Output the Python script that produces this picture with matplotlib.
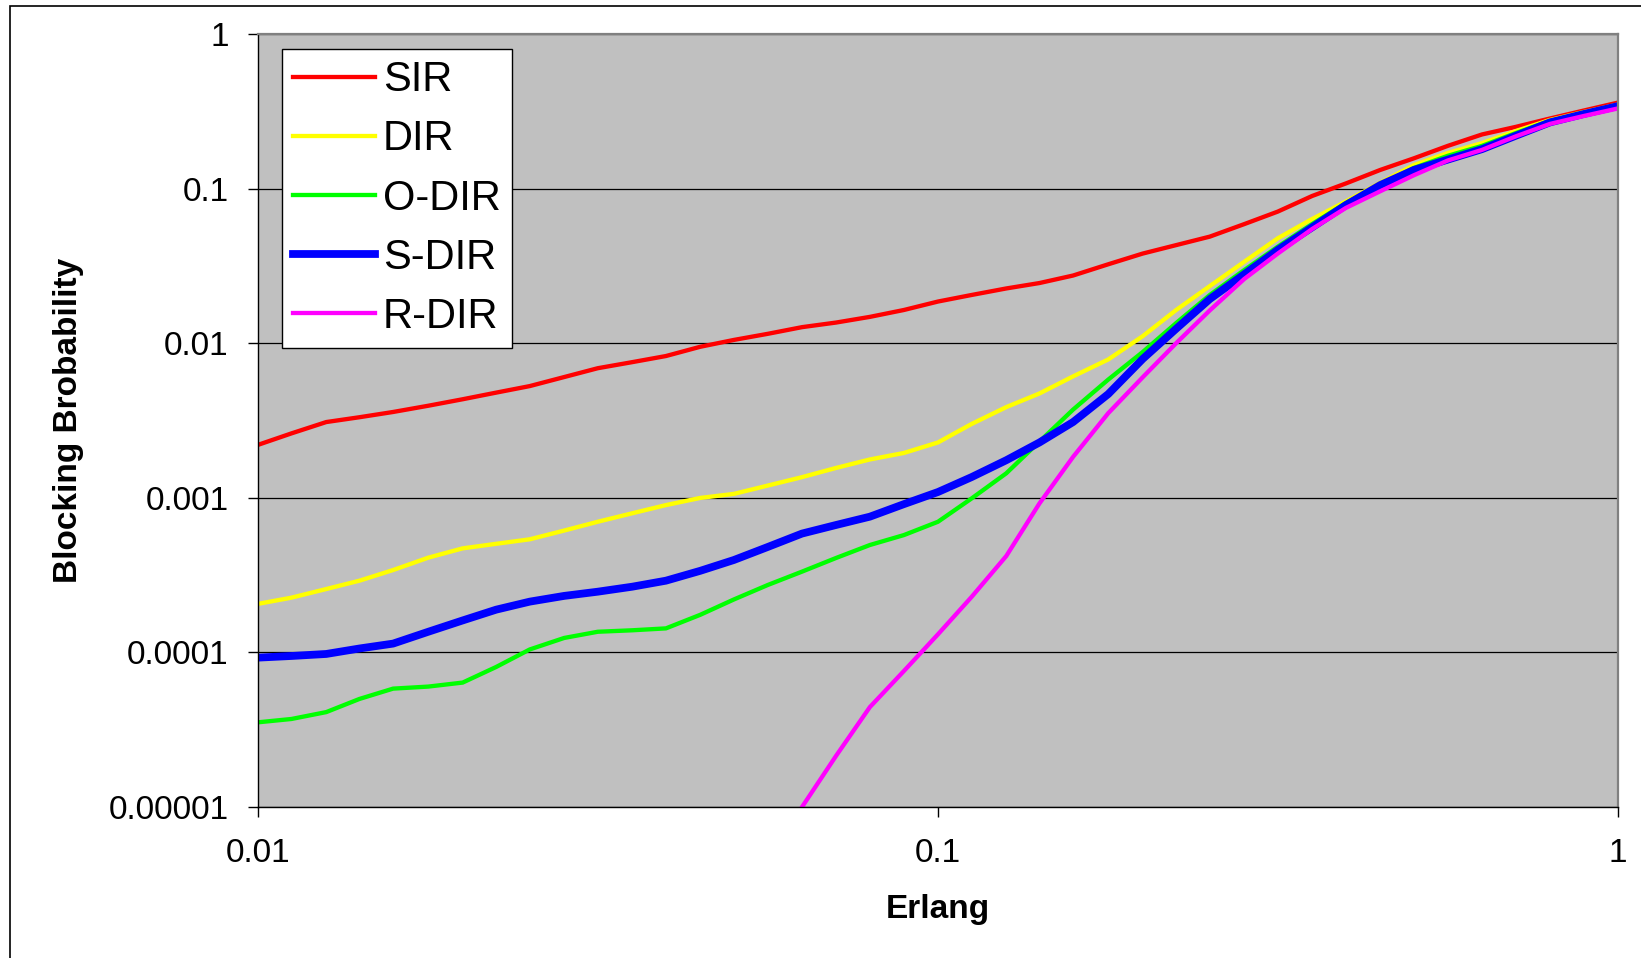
import numpy as np
import matplotlib
matplotlib.use("Agg")
import matplotlib.pyplot as plt
from matplotlib.patches import Rectangle

plt.rcParams["font.family"] = ["Liberation Sans", "DejaVu Sans"]

# Erlang load (x) and blocking probability of each scheme
erlang = [0.01, 0.0112, 0.0126, 0.0141, 0.0158, 0.0178, 0.02, 0.0224, 0.0251, 0.0282,
          0.0316, 0.0355, 0.0398, 0.0447, 0.0501, 0.0562, 0.0631, 0.0708, 0.0794, 0.0891,
          0.1, 0.112, 0.126, 0.141, 0.158, 0.178, 0.2, 0.224, 0.251, 0.282,
          0.316, 0.355, 0.398, 0.447, 0.501, 0.562, 0.631, 0.708, 0.794, 0.891, 1.0]

sir = [2.2e-3, 2.61e-3, 3.09e-3, 3.32e-3, 3.59e-3, 3.94e-3, 4.34e-3, 4.79e-3, 5.28e-3, 6.04e-3,
       6.89e-3, 7.54e-3, 8.26e-3, 9.48e-3, 1.05e-2, 1.15e-2, 1.27e-2, 1.36e-2, 1.48e-2, 1.64e-2,
       1.86e-2, 2.05e-2, 2.26e-2, 2.45e-2, 2.74e-2, 3.24e-2, 3.8e-2, 4.31e-2, 4.89e-2, 5.89e-2,
       7.1e-2, 8.96e-2, 0.108, 0.132, 0.157, 0.189, 0.224, 0.251, 0.284, 0.32, 0.36]

dir_ = [2.06e-4, 2.26e-4, 2.57e-4, 2.91e-4, 3.41e-4, 4.1e-4, 4.71e-4, 5.04e-4, 5.39e-4, 6.14e-4,
        7.0e-4, 7.94e-4, 8.97e-4, 9.98e-4, 1.06e-3, 1.2e-3, 1.36e-3, 1.56e-3, 1.77e-3, 1.95e-3,
        2.28e-3, 3.0e-3, 3.86e-3, 4.73e-3, 6.1e-3, 7.85e-3, 1.11e-2, 1.64e-2, 2.34e-2, 3.36e-2,
        4.77e-2, 6.36e-2, 8.26e-2, 0.109, 0.142, 0.170, 0.197, 0.236, 0.278, 0.313, 0.35]

o_dir = [3.53e-5, 3.71e-5, 4.11e-5, 5.0e-5, 5.83e-5, 6.01e-5, 6.38e-5, 8.05e-5, 1.045e-4, 1.24e-4,
         1.36e-4, 1.39e-4, 1.43e-4, 1.75e-4, 2.2e-4, 2.73e-4, 3.33e-4, 4.08e-4, 4.95e-4, 5.74e-4,
         7.0e-4, 9.89e-4, 1.44e-3, 2.31e-3, 3.72e-3, 5.82e-3, 8.77e-3, 1.35e-2, 2.05e-2, 2.97e-2,
         4.21e-2, 5.9e-2, 8.07e-2, 0.1054, 0.136, 0.163, 0.189, 0.229, 0.274, 0.308, 0.347]

s_dir = [9.25e-5, 9.48e-5, 9.77e-5, 1.06e-4, 1.14e-4, 1.36e-4, 1.61e-4, 1.89e-4, 2.13e-4, 2.32e-4,
         2.47e-4, 2.66e-4, 2.91e-4, 3.37e-4, 3.96e-4, 4.81e-4, 5.87e-4, 6.67e-4, 7.55e-4, 9.1e-4,
         1.09e-3, 1.36e-3, 1.75e-3, 2.28e-3, 3.09e-3, 4.69e-3, 7.91e-3, 1.24e-2, 1.93e-2, 2.79e-2,
         4.01e-2, 5.62e-2, 7.83e-2, 0.1054, 0.132, 0.154, 0.180, 0.22, 0.268, 0.304, 0.342]

# R-DIR only enters the plotted range from about 0.063 Erlang
r_dir = [np.nan] * 16 + [
         1.0e-5, 2.14e-5, 4.43e-5, 7.58e-5,
         1.31e-4, 2.28e-4, 4.2e-4, 9.2e-4, 1.84e-3, 3.53e-3, 6.02e-3, 1.0e-2, 1.63e-2, 2.6e-2,
         3.8e-2, 5.48e-2, 7.5e-2, 9.61e-2, 0.122, 0.152, 0.178, 0.218, 0.262, 0.295, 0.33]

series = [
    ("SIR", sir, "#FF0000", 3.1),
    ("DIR", dir_, "#FFFF00", 3.1),
    ("O-DIR", o_dir, "#00FF00", 3.1),
    ("S-DIR", s_dir, "#0000FF", 5.6),
    ("R-DIR", r_dir, "#FF00FF", 3.1),
]

y_ticks = [1e-5, 1e-4, 1e-3, 1e-2, 1e-1, 1]
y_labels = ["0.00001", "0.0001", "0.001", "0.01", "0.1", "1"]
x_ticks = [0.01, 0.1, 1]
x_labels = ["0.01", "0.1", "1"]

W, H = 1641, 958
fig = plt.figure(figsize=(W / 100, H / 100), dpi=100)
ax = fig.add_axes([258 / W, 1 - 807 / H, (1618 - 258) / W, (807 - 34) / H])
ax.set_facecolor("#C0C0C0")

for name, vals, color, lw in series:
    ax.plot(erlang, vals, color=color, lw=lw, label=name, solid_joinstyle="round")

ax.set_xscale("log")
ax.set_yscale("log")
ax.set_xlim(0.01, 1)
ax.set_ylim(1e-5, 1)
ax.set_xticks(x_ticks)
ax.set_xticklabels(x_labels)
ax.set_yticks(y_ticks)
ax.set_yticklabels(y_labels)
ax.xaxis.set_minor_locator(matplotlib.ticker.NullLocator())
ax.yaxis.set_minor_locator(matplotlib.ticker.NullLocator())
ax.tick_params(axis="both", which="major", labelsize=24, direction="out",
               length=7, width=1, color="black")
ax.tick_params(axis="y", pad=14)
ax.tick_params(axis="x", pad=15)

ax.set_axisbelow(True)
ax.yaxis.grid(True, color="black", lw=0.9)
ax.xaxis.grid(False)

for side in ("left", "bottom"):
    ax.spines[side].set_color("black")
    ax.spines[side].set_linewidth(1.0)
for side in ("top", "right"):
    ax.spines[side].set_color("#808080")
    ax.spines[side].set_linewidth(1.6)

ax.set_xlabel("Erlang", fontsize=24, fontweight="bold")
ax.set_ylabel("Blocking Brobability", fontsize=24, fontweight="bold")
ax.xaxis.set_label_coords(0.5, -0.112)
ax.yaxis.set_label_coords(-0.128, 0.5)

leg = ax.legend(loc="upper left", bbox_to_anchor=(24 / 1360, 1 - 15 / 773),
                borderaxespad=0, fontsize=30, frameon=True, fancybox=False,
                handlelength=1.95, handletextpad=0.2, borderpad=0.27,
                labelspacing=0.46)
leg.get_frame().set_edgecolor("black")
leg.get_frame().set_linewidth(1.0)
leg.get_frame().set_facecolor("white")
leg.get_frame().set_alpha(1.0)

# outer chart border (only left and top edges fall inside the image)
fig.add_artist(Rectangle((10 / W, -0.2), 1.5, 1.2 - 6 / H, transform=fig.transFigure,
                         fill=False, edgecolor="black", lw=1.2))

fig.savefig("out.png", dpi=100)
plt.close(fig)
